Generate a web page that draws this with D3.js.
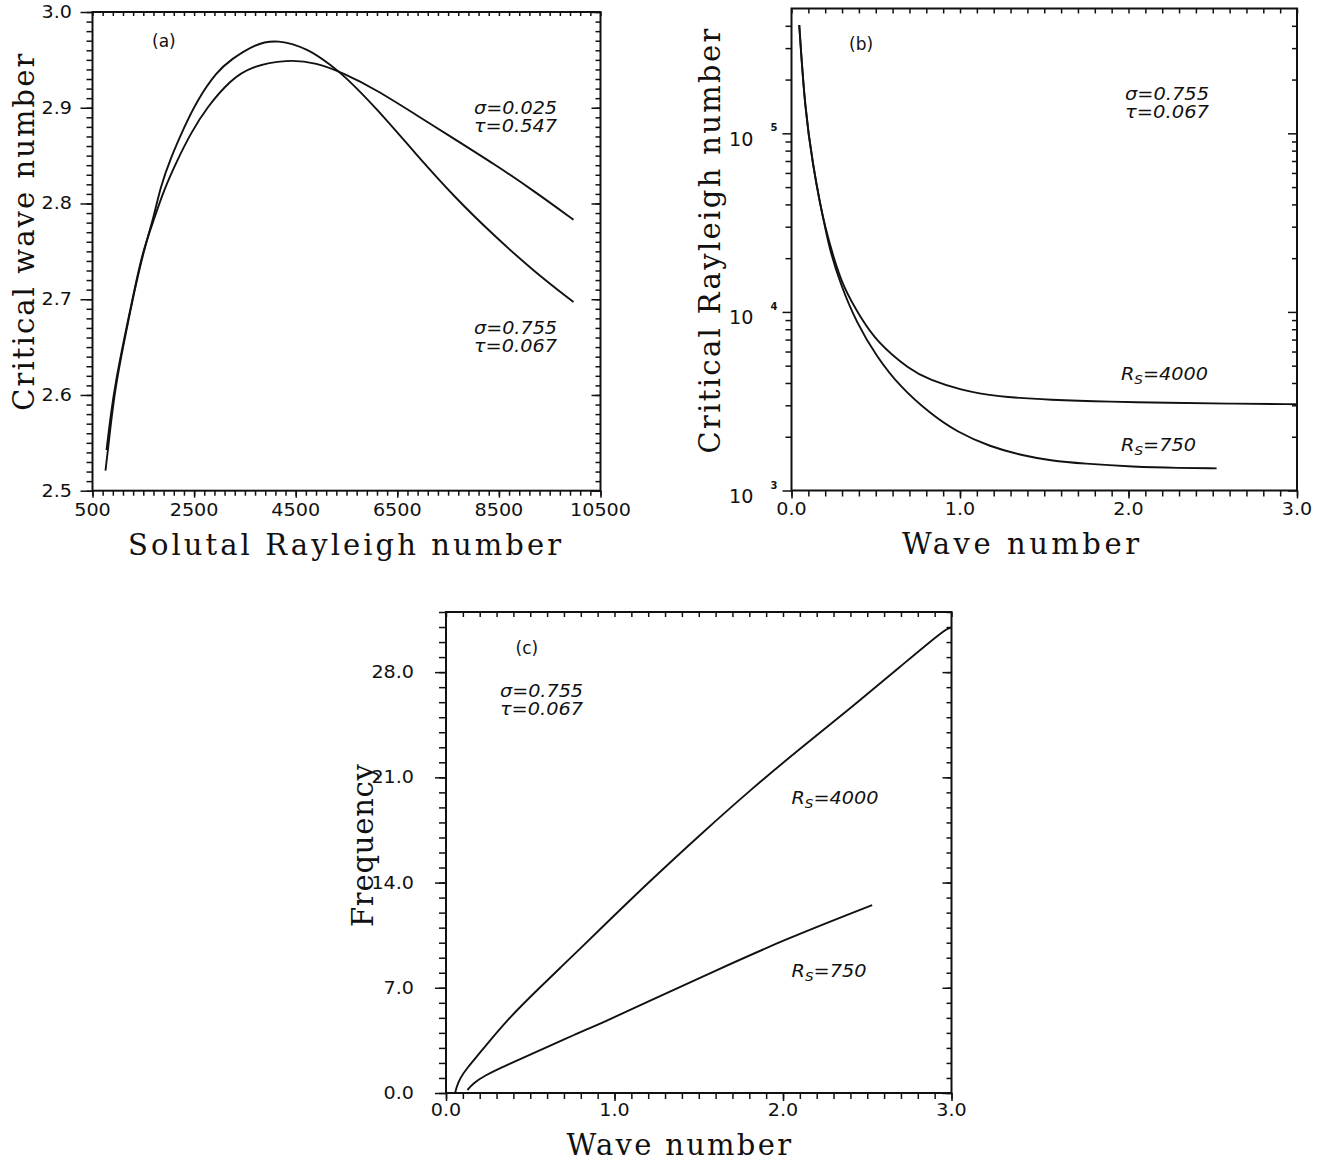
<!DOCTYPE html>
<html>
<head>
<meta charset="utf-8">
<script src="https://cdn.jsdelivr.net/npm/d3@7"></script>
<style>
  body { margin: 0; background: #fff; }
  text { white-space: pre; }
</style>
</head>
<body>
<div id="fig"></div>
<script>
// ---- (a) critical wave number vs solutal Rayleigh number ----
// sigma=0.755, tau=0.067
const aRsA = [756, 854, 953, 1116, 1313, 1510, 1707, 1839, 2035, 2298, 2561, 2954, 3217, 3700, 4136, 4758, 5224, 5442, 6081, 6858, 7636, 8413, 9193, 9969];
const aKA  = [2.521, 2.567, 2.609, 2.654, 2.706, 2.751, 2.786, 2.8175, 2.847, 2.879, 2.908, 2.938, 2.950, 2.9667, 2.9715, 2.9615, 2.943, 2.934, 2.900, 2.852, 2.806, 2.766, 2.729, 2.697];
// sigma=0.025, tau=0.547
const aRsB = [776, 860, 960, 1120, 1310, 1478, 1707, 1904, 2167, 2429, 2758, 3217, 3610, 4332, 4913, 5442, 6081, 6858, 7636, 8413, 9193, 9969];
const aKB  = [2.5425, 2.580, 2.615, 2.658, 2.706, 2.748, 2.783, 2.814, 2.845, 2.873, 2.901, 2.929, 2.943, 2.9506, 2.947, 2.936, 2.919, 2.893, 2.867, 2.841, 2.813, 2.783];
const aXTicks = [500, 2500, 4500, 6500, 8500, 10500];
const aYTicks = [2.5, 2.6, 2.7, 2.8, 2.9, 3.0];

// ---- (b) critical Rayleigh number vs wave number ----
const bK4000  = [0.046, 0.080, 0.129, 0.169, 0.199, 0.248, 0.307, 0.407, 0.506, 0.703, 0.822, 1.0, 1.218, 1.534, 1.9, 2.227, 2.6, 3.0];
const bRa4000 = [404000, 135000, 65000, 40600, 30000, 20400, 13800, 9400, 6800, 4730, 4160, 3660, 3350, 3215, 3140, 3100, 3065, 3040];
const bK750   = [0.046, 0.080, 0.129, 0.169, 0.199, 0.228, 0.288, 0.387, 0.506, 0.644, 0.822, 0.980, 1.178, 1.376, 1.534, 1.732, 2.028, 2.3, 2.523];
const bRa750  = [404000, 135000, 65000, 40600, 30000, 22200, 14500, 8630, 5610, 3810, 2700, 2130, 1758, 1567, 1472, 1413, 1358, 1337, 1330];
const bXTicks = [0, 1, 2, 3];
const bYTicks = [1e3, 1e4, 1e5];

// ---- (c) frequency vs wave number ----
const cK4000 = [0.054, 0.063, 0.083, 0.123, 0.2, 0.36, 0.56, 0.68, 0.8, 0.915, 1.21, 1.51, 1.81, 2.1, 2.4, 2.7, 2.97, 3.0];
const cF4000 = [0, 0.41, 0.97, 1.64, 2.65, 4.85, 7.05, 8.35, 9.65, 10.9, 14.1, 17.2, 20.2, 22.9, 25.6, 28.4, 30.95, 30.95];
const cK750  = [0.127, 0.162, 0.222, 0.361, 0.56, 0.756, 0.955, 1.153, 1.608, 2.007, 2.529];
const cF750  = [0.2, 0.64, 1.12, 1.86, 2.85, 3.85, 4.8, 5.85, 8.18, 10.2, 12.5];
const cXTicks = [0, 1, 2, 3];
const cYTicks = [0, 7, 14, 21, 28];

const ink = "#111";

const svg = d3.select("#fig").append("svg")
  .attr("width", 1320)
  .attr("height", 1162)
  .style("background", "#fff");

// tick numbers are drawn wide, like the plotter font
function numWidth(s) {
  return s.split("").reduce((w, c) => w + (c === "." ? 6 : 12.2), 0);
}

function numText(g, s, x, y, anchor, size) {
  const w = numWidth(s);
  const x0 = anchor === "end" ? x - w : anchor === "middle" ? x - w / 2 : x;
  return g.append("text")
    .attr("x", x0).attr("y", y)
    .attr("textLength", w).attr("lengthAdjust", "spacingAndGlyphs")
    .style("font-family", "'DejaVu Sans', sans-serif")
    .style("font-size", (size || 17.5) + "px")
    .attr("fill", ink)
    .text(s);
}

function ticks(g, axis, values, size, tx, ty) {
  g.append("g")
    .attr("transform", `translate(${tx},${ty})`)
    .call(axis.tickValues(values).tickSize(size).tickFormat(""))
    .call(s => s.select(".domain").remove())
    .selectAll(".tick line")
    .attr("stroke", ink)
    .attr("stroke-width", 1.5);
}

function frame(g, w, h) {
  g.append("rect")
    .attr("width", w).attr("height", h)
    .attr("fill", "none")
    .attr("stroke", ink)
    .attr("stroke-width", 2);
}

function title(s, x, y, len, rotate) {
  svg.append("text")
    .attr("transform", `translate(${x},${y})` + (rotate ? " rotate(-90)" : ""))
    .attr("textLength", len)
    .attr("lengthAdjust", "spacing")
    .style("font-family", "'DejaVu Serif', serif")
    .style("font-size", "29px")
    .attr("fill", ink)
    .text(s);
}

// two-line parameter note (sigma over tau)
function note(l1, l2, x, y, len) {
  const t = svg.append("text")
    .style("font-family", "'DejaVu Sans', sans-serif")
    .style("font-style", "italic")
    .style("font-size", "17px")
    .attr("fill", ink);
  t.append("tspan").attr("x", x).attr("y", y)
    .attr("textLength", len).attr("lengthAdjust", "spacingAndGlyphs").text(l1);
  t.append("tspan").attr("x", x).attr("y", y + 17.5)
    .attr("textLength", len).attr("lengthAdjust", "spacingAndGlyphs").text(l2);
}

function rsNote(val, x, y, len) {
  const t = svg.append("text")
    .attr("x", x).attr("y", y)
    .attr("textLength", len)
    .attr("lengthAdjust", "spacingAndGlyphs")
    .style("font-family", "'DejaVu Sans', sans-serif")
    .style("font-style", "italic")
    .style("font-size", "17px")
    .attr("fill", ink);
  t.append("tspan").text("R");
  t.append("tspan").attr("dy", 4).style("font-size", "12px").text("S");
  t.append("tspan").attr("dy", -4).text("=" + val);
}

function panelTag(s, x, y) {
  svg.append("text")
    .attr("x", x).attr("y", y)
    .style("font-family", "'DejaVu Sans', sans-serif")
    .style("font-size", "17px")
    .attr("fill", ink)
    .text(s);
}

function curve(g, xs, ys, x, y) {
  const pts = xs.map((v, i) => [v, ys[i]]);
  g.append("path")
    .datum(pts)
    .attr("fill", "none")
    .attr("stroke", ink)
    .attr("stroke-width", 1.9)
    .attr("d", d3.line()
      .x(d => x(d[0]))
      .y(d => y(d[1]))
      .curve(d3.curveBasis));
}

// ================= Panel (a) =================
{
  const L = 92.5, T = 12, W = 508, H = 478.7;
  const g = svg.append("g").attr("transform", `translate(${L},${T})`);
  const x = d3.scaleLinear().domain([500, 10500]).range([0, W]);
  const y = d3.scaleLinear().domain([2.5, 3.0]).range([H, 0]);

  const xMinor = d3.range(0, 51).map(i => 500 + i * 200);
  const yMinor = d3.range(0, 51).map(i => 2.5 + i * 0.01);

  ticks(g, d3.axisBottom(x), xMinor, 5, 0, H);
  ticks(g, d3.axisBottom(x), aXTicks, 7, 0, H);
  ticks(g, d3.axisTop(x), xMinor, -4, 0, 0);
  ticks(g, d3.axisLeft(y), yMinor, 6, 0, 0);
  ticks(g, d3.axisLeft(y), aYTicks, 12, 0, 0);
  ticks(g, d3.axisRight(y), yMinor, -5, W, 0);
  ticks(g, d3.axisRight(y), aYTicks, -9, W, 0);
  frame(g, W, H);

  aXTicks.forEach(v => numText(g, String(v), x(v), H + 25, "middle"));
  aYTicks.forEach(v => numText(g, v.toFixed(1), -20.5, y(v) + 6, "end"));

  curve(g, aRsA, aKA, x, y);
  curve(g, aRsB, aKB, x, y);

  panelTag("(a)", 152, 47);
  note("σ=0.025", "τ=0.547", 474, 114, 83);
  note("σ=0.755", "τ=0.067", 474, 334, 83);

  title("Solutal Rayleigh number", 128, 555, 433, false);
  title("Critical wave number", 33.5, 410.7, 357, true);
}

// ================= Panel (b) =================
{
  const L = 791.5, T = 8.5, W = 505.5, H = 482;
  const g = svg.append("g").attr("transform", `translate(${L},${T})`);
  const x = d3.scaleLinear().domain([0, 3]).range([0, W]);
  const y = d3.scaleLog().domain([1e3, 5e5]).range([H, 0]);

  const xMinor = d3.range(0, 31).map(i => i * 0.1);
  const yMinor = [];
  [1e3, 1e4, 1e5].forEach(d => d3.range(2, 10).forEach(m => { if (m * d < 5e5) yMinor.push(m * d); }));

  ticks(g, d3.axisBottom(x), xMinor, 6, 0, H);
  ticks(g, d3.axisBottom(x), bXTicks, 8, 0, H);
  ticks(g, d3.axisTop(x), xMinor, -5, 0, 0);
  ticks(g, d3.axisLeft(y), yMinor, 6, 0, 0);
  ticks(g, d3.axisLeft(y), bYTicks, 9, 0, 0);
  ticks(g, d3.axisRight(y), yMinor, -5, W, 0);
  ticks(g, d3.axisRight(y), bYTicks, -9, W, 0);
  frame(g, W, H);

  bXTicks.forEach(v => numText(g, v.toFixed(1), x(v), H + 24.5, "middle"));
  bYTicks.forEach(v => {
    numText(g, "10", -38, y(v) + 12.5, "end", 19);
    g.append("text")
      .attr("x", -21).attr("y", y(v) - 2)
      .style("font-family", "'DejaVu Sans', sans-serif")
      .style("font-size", "10px")
      .style("font-weight", "bold")
      .attr("fill", ink)
      .text(String(Math.round(Math.log10(v))));
  });

  curve(g, bK4000, bRa4000, x, y);
  curve(g, bK750, bRa750, x, y);

  panelTag("(b)", 849, 50);
  note("σ=0.755", "τ=0.067", 1125, 100, 84);
  rsNote("4000", 1121, 380, 87);
  rsNote("750", 1121, 451, 75);

  title("Wave number", 902, 553.6, 237, false);
  title("Critical Rayleigh number", 719.5, 453.6, 425, true);
}

// ================= Panel (c) =================
{
  const L = 446, T = 612, W = 505.5, H = 481;
  const g = svg.append("g").attr("transform", `translate(${L},${T})`);
  const x = d3.scaleLinear().domain([0, 3]).range([0, W]);
  const y = d3.scaleLinear().domain([0, 32]).range([H, 0]);

  const xMinor = d3.range(0, 31).map(i => i * 0.1);
  const yMinor = d3.range(0, 33);

  ticks(g, d3.axisBottom(x), xMinor, 6, 0, H);
  ticks(g, d3.axisBottom(x), cXTicks, 8, 0, H);
  ticks(g, d3.axisTop(x), xMinor, -5, 0, 0);
  ticks(g, d3.axisLeft(y), yMinor, 7, 0, 0);
  ticks(g, d3.axisLeft(y), cYTicks, 11, 0, 0);
  ticks(g, d3.axisRight(y), yMinor, -5, W, 0);
  ticks(g, d3.axisRight(y), cYTicks, -9, W, 0);
  frame(g, W, H);

  cXTicks.forEach(v => numText(g, v.toFixed(1), x(v), H + 23, "middle"));
  cYTicks.forEach(v => numText(g, v.toFixed(1), -32, y(v) + 6, "end"));

  curve(g, cK4000, cF4000, x, y);
  curve(g, cK750, cF750, x, y);

  panelTag("(c)", 515.5, 654);
  note("σ=0.755", "τ=0.067", 500, 697, 83);
  rsNote("4000", 791.5, 804, 87);
  rsNote("750", 791.5, 977, 75);

  title("Wave number", 566.5, 1155, 224.5, false);
  title("Frequency", 372.5, 927, 163, true);
}
</script>
</body>
</html>
